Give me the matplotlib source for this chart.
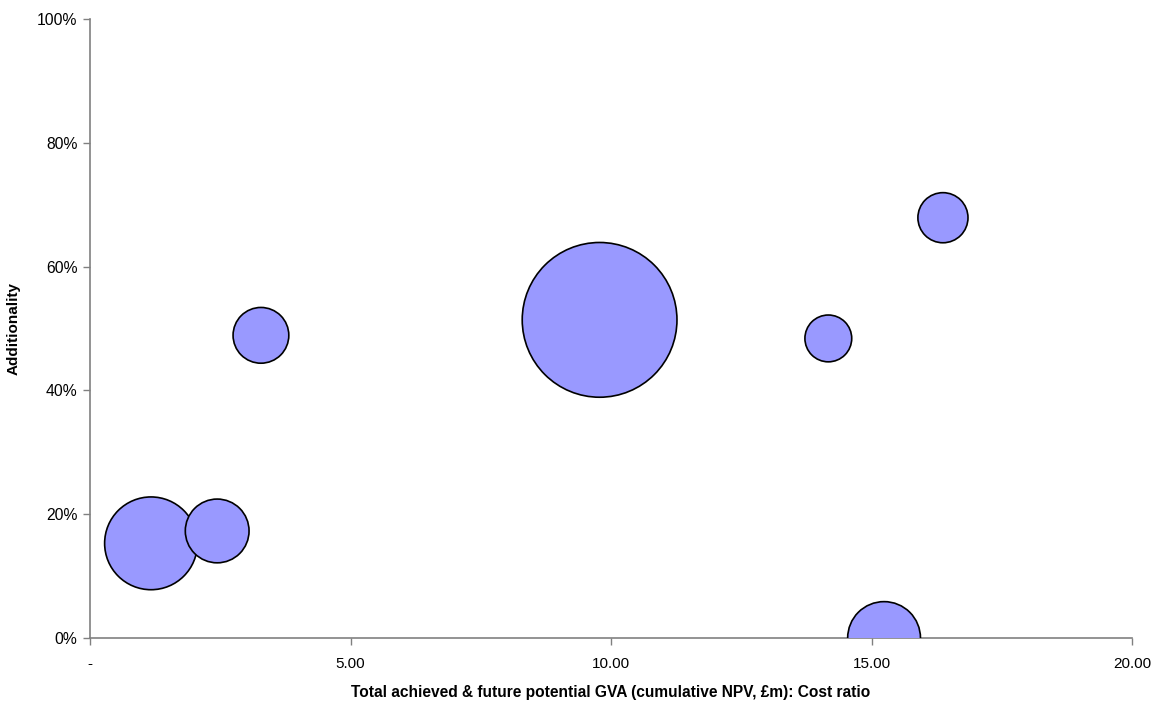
import matplotlib
matplotlib.use("Agg")
import matplotlib.pyplot as plt
from matplotlib.ticker import FuncFormatter, MultipleLocator
import numpy as np

plt.rcParams['font.family'] = ['Liberation Sans', 'DejaVu Sans']

# Cost ratio (x), additionality (y, %) and relative bubble size per project
cost_ratio = [1.17, 2.44, 3.28, 9.78, 14.17, 16.37, 15.24]
additionality = [15.3, 17.3, 48.9, 51.4, 48.4, 67.9, 0.0]
bubble_size = [2.16, 1.02, 0.78, 6.01, 0.55, 0.63, 1.33]

x_label = "Total achieved & future potential GVA (cumulative NPV, £m): Cost ratio"
y_label = "Additionality"

fig = plt.figure(figsize=(11.56, 7.04), dpi=100)
ax = fig.add_axes([0.0779, 0.0937, 0.9014, 0.8793])

# Largest bubble spans a quarter of the plot height, area proportional to size
ax_h_pt = 0.8793 * 7.04 * 72
max_d = 0.25 * ax_h_pt
sizes = np.array(bubble_size)
s = (max_d ** 2) * sizes / sizes.max()

order = np.argsort(-sizes)
ax.scatter(np.array(cost_ratio)[order], np.array(additionality)[order],
           s=s[order], c='#9999FF', edgecolors='black', linewidths=1.2,
           zorder=3)

ax.set_xlim(0, 20)
ax.set_ylim(0, 100)
ax.xaxis.set_major_locator(MultipleLocator(5))
ax.yaxis.set_major_locator(MultipleLocator(20))
ax.xaxis.set_major_formatter(FuncFormatter(lambda v, p: '-' if abs(v) < 1e-9 else f"{v:.2f}"))
ax.yaxis.set_major_formatter(FuncFormatter(lambda v, p: f"{v:.0f}%"))

for side in ('top', 'right'):
    ax.spines[side].set_visible(False)
for side in ('left', 'bottom'):
    ax.spines[side].set_color('#808080')
    ax.spines[side].set_linewidth(1.2)
ax.tick_params(axis='both', direction='out', length=5, width=1, color='#808080',
               labelsize=11, labelcolor='black')
ax.tick_params(axis='x', pad=9)
ax.tick_params(axis='y', pad=4, labelsize=11.3)

ax.set_xlabel(x_label, fontsize=11.2, fontweight='bold', labelpad=10)
ax.set_ylabel(y_label, fontsize=11, fontweight='bold', labelpad=12)

fig.savefig("out.png", dpi=100)
